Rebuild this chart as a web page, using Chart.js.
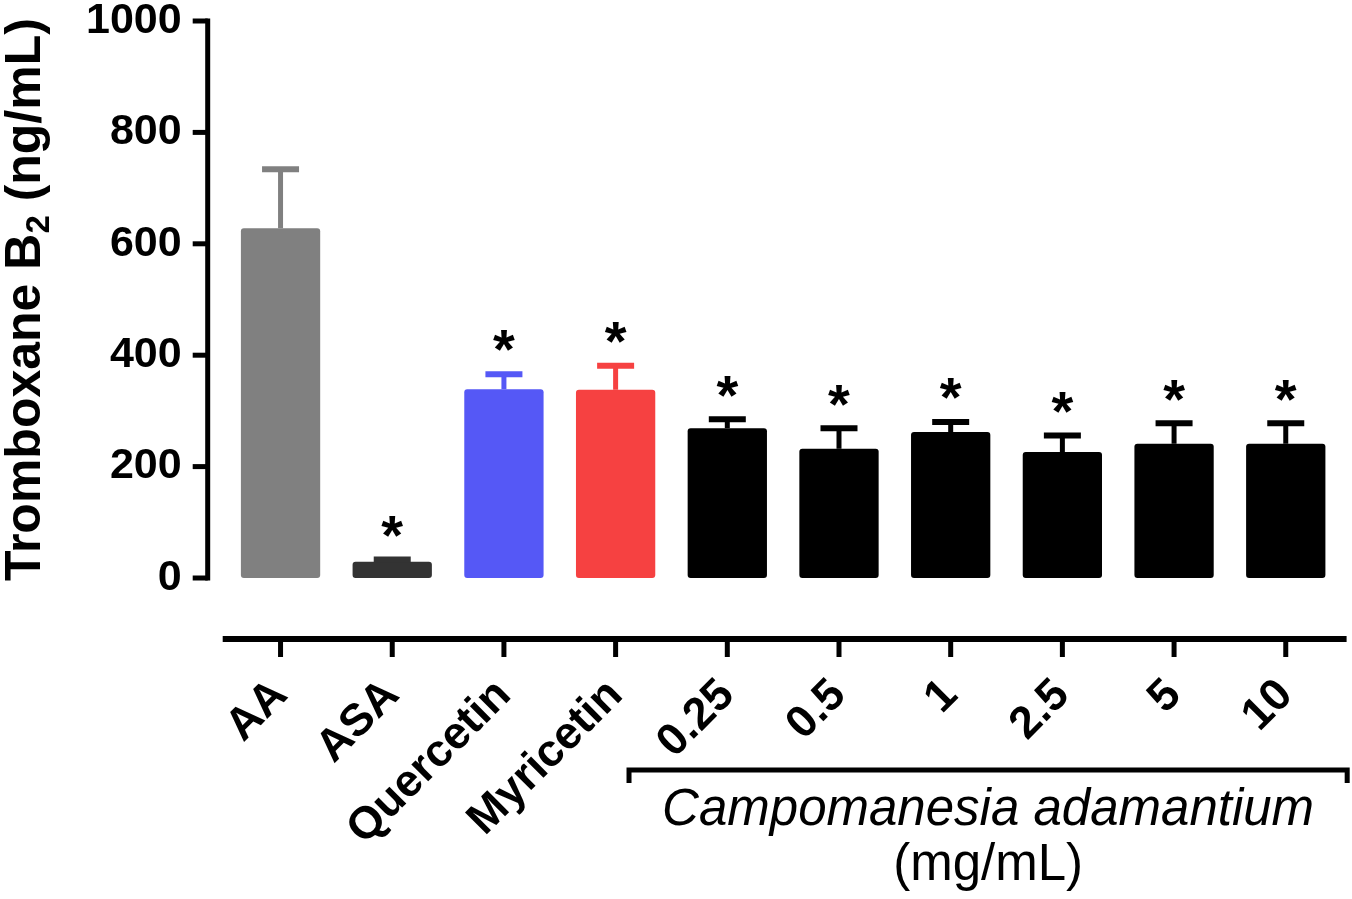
<!DOCTYPE html>
<html>
<head>
<meta charset="utf-8">
<script src="https://cdn.jsdelivr.net/npm/chart.js@4.4.0/dist/chart.umd.min.js"></script>
<style>
  html, body { margin: 0; padding: 0; background: #fff; }
  canvas { display: block; }
</style>
</head>
<body>
<canvas id="chart" width="1352" height="899"></canvas>
<script>
// data (ng/mL)
const groups = ['AA', 'ASA', 'Quercetin', 'Myricetin', '0.25', '0.5', '1', '2.5', '5', '10'];
const means = [628, 29, 339, 338, 269, 232, 262, 226, 241, 241];
const errTops = [734, 33, 366, 381, 285, 269, 280, 256, 278, 278]; // mean + SEM
const significant = [false, true, true, true, true, true, true, true, true, true];
const barColors = ['#808080', '#333333', '#5558f6', '#f64141', '#000000', '#000000', '#000000', '#000000', '#000000', '#000000'];
const yTicks = [0, 200, 400, 600, 800, 1000];
const plantName = 'Campomanesia adamantium';
const plantUnit = '(mg/mL)';

const FONT = '"Liberation Sans", Arial, Helvetica, sans-serif';

// error bars, asterisks, detached axes, bracket and titles
const decor = {
    id: 'decor',
    afterDatasetsDraw(chart) {
        const { ctx, chartArea, scales: { x, y } } = chart;
        const meta = chart.getDatasetMeta(0);
        ctx.save();
        ctx.lineCap = 'butt';

        meta.data.forEach((bar, i) => {
            const top = y.getPixelForValue(errTops[i]);
            ctx.strokeStyle = barColors[i];
            ctx.lineWidth = 5;
            ctx.beginPath();
            ctx.moveTo(bar.x, bar.y);
            ctx.lineTo(bar.x, top);
            ctx.stroke();
            ctx.lineWidth = 6;
            ctx.beginPath();
            ctx.moveTo(bar.x - 18.5, top);
            ctx.lineTo(bar.x + 18.5, top);
            ctx.stroke();
            if (significant[i]) {
                ctx.fillStyle = '#000';
                ctx.font = 'bold 56px ' + FONT;
                ctx.textAlign = 'center';
                ctx.textBaseline = 'alphabetic';
                ctx.fillText('*', bar.x, top - 37 + 0.56 * 56);
            }
        });

        // y axis (offset to the left of the bars)
        const ax = chartArea.left - 17;
        ctx.strokeStyle = '#000';
        ctx.lineWidth = 5;
        ctx.lineCap = 'square';
        ctx.beginPath();
        ctx.moveTo(ax, y.getPixelForValue(1000));
        ctx.lineTo(ax, y.getPixelForValue(0));
        ctx.stroke();
        ctx.lineCap = 'butt';
        yTicks.forEach(v => {
            const py = y.getPixelForValue(v);
            ctx.beginPath();
            ctx.moveTo(ax - 15, py);
            ctx.lineTo(ax, py);
            ctx.stroke();
        });

        // x axis (dropped below the zero line)
        const ay = chartArea.bottom + 61;
        ctx.lineWidth = 6;
        ctx.beginPath();
        ctx.moveTo(chartArea.left - 2, ay);
        ctx.lineTo(chartArea.right + 5, ay);
        ctx.stroke();
        ctx.lineWidth = 5;
        groups.forEach((g, i) => {
            const px = x.getPixelForValue(i);
            ctx.beginPath();
            ctx.moveTo(px, ay);
            ctx.lineTo(px, ay + 18);
            ctx.stroke();
        });

        // bracket under the extract doses
        const step = x.getPixelForValue(1) - x.getPixelForValue(0);
        const bx0 = x.getPixelForValue(4) - 0.88 * step;
        const bx1 = x.getPixelForValue(9) + 0.55 * step;
        const by = chartArea.bottom + 192;
        ctx.lineWidth = 5;
        ctx.beginPath();
        ctx.moveTo(bx0, by + 13);
        ctx.lineTo(bx0, by);
        ctx.lineTo(bx1, by);
        ctx.lineTo(bx1, by + 13);
        ctx.stroke();

        ctx.fillStyle = '#000';
        ctx.textAlign = 'center';
        ctx.textBaseline = 'alphabetic';
        const cx = (bx0 + bx1) / 2;
        ctx.font = 'italic 51px ' + FONT;
        ctx.fillText(plantName, cx, by + 55);
        ctx.font = '51px ' + FONT;
        ctx.fillText(plantUnit, cx, by + 110);

        // y title with subscript
        const parts = [
            { t: 'Tromboxane B', f: 'bold 50px ' + FONT, dy: 0 },
            { t: '2', f: 'bold 33px ' + FONT, dy: 9 },
            { t: ' (ng/mL)', f: 'bold 50px ' + FONT, dy: 0 }
        ];
        let total = 0;
        parts.forEach(p => { ctx.font = p.f; p.w = ctx.measureText(p.t).width; total += p.w; });
        ctx.translate(40, (chartArea.top + chartArea.bottom) / 2);
        ctx.rotate(-Math.PI / 2);
        ctx.textAlign = 'left';
        let cur = -total / 2;
        parts.forEach(p => {
            ctx.font = p.f;
            ctx.fillText(p.t, cur, p.dy);
            cur += p.w;
        });
        ctx.restore();
    }
};

new Chart(document.getElementById('chart'), {
    type: 'bar',
    data: {
        labels: groups,
        datasets: [{
            data: means,
            backgroundColor: barColors,
            borderWidth: 0,
            borderRadius: 3,
            borderSkipped: false,
            categoryPercentage: 1,
            barPercentage: 0.71
        }]
    },
    options: {
        responsive: false,
        animation: false,
        layout: { padding: { top: 21, right: 10.4, bottom: 0, left: 0 } },
        plugins: {
            legend: { display: false },
            tooltip: { enabled: false }
        },
        scales: {
            x: {
                grid: { display: false, drawTicks: false },
                border: { display: false },
                ticks: {
                    color: '#000',
                    font: { family: FONT, size: 45, weight: 'bold' },
                    minRotation: 45,
                    maxRotation: 45,
                    autoSkip: false,
                    padding: 91
                },
                afterFit(scale) {
                    scale.height = 321;
                    scale.paddingLeft = 0;
                    scale.paddingRight = 0;
                }
            },
            y: {
                min: 0,
                max: 1000,
                grid: { display: false, drawTicks: false },
                border: { display: false },
                ticks: {
                    stepSize: 200,
                    color: '#000',
                    font: { family: FONT, size: 43, weight: 'bold', lineHeight: 1 },
                    padding: 43,
                    callback: v => String(v)
                },
                afterFit(scale) {
                    scale.width = 224.7;
                    scale.paddingTop = 0;
                    scale.paddingBottom = 0;
                }
            }
        }
    },
    plugins: [decor]
});
</script>
</body>
</html>
